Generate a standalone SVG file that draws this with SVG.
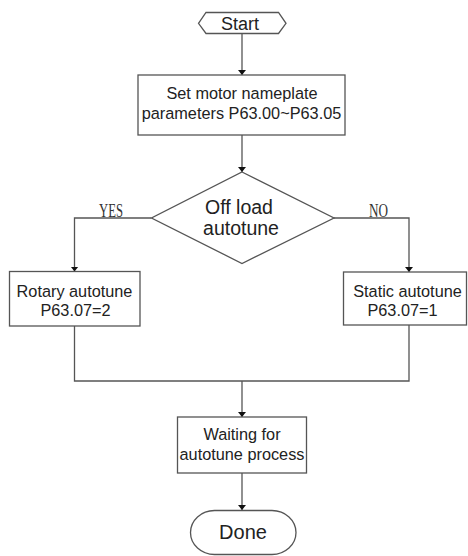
<svg xmlns="http://www.w3.org/2000/svg" width="468" height="556" viewBox="0 0 468 556">
<defs>
<marker id="arr" viewBox="0 0 10 10" refX="10" refY="5" markerWidth="5" markerHeight="8" markerUnits="userSpaceOnUse" orient="auto-start-reverse" preserveAspectRatio="none">
<path d="M0,0 L10,5 L0,10 Z" fill="#111"/>
</marker>
</defs>
<style>
.shape{fill:#fff;stroke:#555;stroke-width:1.3}
.line{fill:none;stroke:#555;stroke-width:1.3}
.t{font-family:"Liberation Sans",Arial,sans-serif;font-size:16.3px;fill:#222;text-anchor:middle}
.big{font-size:19.5px}
.lbl{font-family:"Liberation Serif","Times New Roman",serif;font-size:18px;fill:#333}
</style>
<rect width="468" height="556" fill="#fff"/>
<g id="connectors">
<path class="line" d="M242,33.5 V75" marker-end="url(#arr)"/>
<path class="line" d="M242,135 V172" marker-end="url(#arr)"/>
<path class="line" d="M151.5,218 H74.5 V271.5" marker-end="url(#arr)"/>
<path class="line" d="M334,218 H409 V272" marker-end="url(#arr)"/>
<path class="line" d="M74.5,326 V381 H409 V325"/>
<path class="line" d="M242,381 V417" marker-end="url(#arr)"/>
<path class="line" d="M242,473 V510" marker-end="url(#arr)"/>
<text class="lbl" x="99" y="216.8" textLength="24" lengthAdjust="spacingAndGlyphs">YES</text>
<text class="lbl" x="369" y="216.8" textLength="19" lengthAdjust="spacingAndGlyphs">NO</text>
</g>
<g id="start">
<polygon class="shape" points="198.5,23.3 206,12.5 278.5,12.5 286,23.3 278.5,33.5 206,33.5"/>
<text class="t" x="240" y="29.5" style="font-size:18px">Start</text>
</g>
<g id="setParams">
<rect class="shape" x="138" y="75" width="207" height="60"/>
<text class="t" x="242" y="98.5">Set motor nameplate</text>
<text class="t" x="241.5" y="118.5">parameters P63.00~P63.05</text>
</g>
<g id="decision">
<polygon class="shape" points="242,172 334,218 242,263.5 151.5,218"/>
<text class="t big" x="239" y="213.5">Off load</text>
<text class="t big" x="241" y="234.5">autotune</text>
</g>
<g id="rotary">
<rect class="shape" x="9.5" y="271.5" width="130.5" height="54.5"/>
<text class="t" x="74.5" y="297">Rotary autotune</text>
<text class="t" x="75.5" y="315.5">P63.07=2</text>
</g>
<g id="static">
<rect class="shape" x="343.5" y="272" width="123" height="53"/>
<text class="t" x="407.5" y="297">Static autotune</text>
<text class="t" x="402.5" y="315.5">P63.07=1</text>
</g>
<g id="waiting">
<rect class="shape" x="177.5" y="417" width="129" height="56"/>
<text class="t" x="242" y="440">Waiting for</text>
<text class="t" x="242" y="460">autotune process</text>
</g>
<g id="done">
<rect class="shape" x="190.5" y="510.5" width="105.5" height="44" rx="24" ry="22"/>
<text class="t" x="243" y="538.5" style="font-size:20px">Done</text>
</g>
</svg>
